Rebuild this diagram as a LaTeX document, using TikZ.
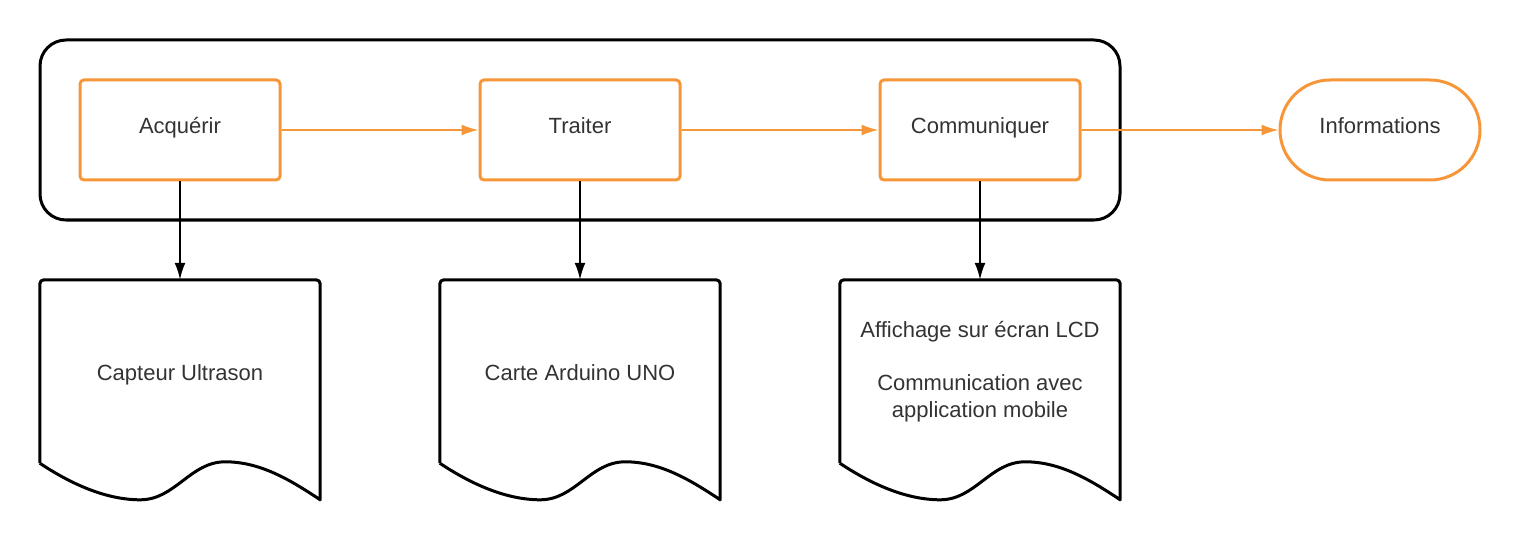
\documentclass[tikz,border=0pt]{standalone}
\usepackage{fontspec}
\setmainfont{Liberation Sans}
\usetikzlibrary{arrows.meta,positioning}
\definecolor{lucidorange}{RGB}{247,150,56}
\definecolor{textgray}{RGB}{51,51,51}
\tikzset{
  stepbox/.style={rectangle,rounded corners=4,draw=lucidorange,line width=3,minimum width=200,minimum height=100,text=textgray,text height=15,text depth=8.4},
  docbox/.style={rectangle,minimum width=280,minimum height=183,text=textgray,align=center},
  docone/.style={docbox,text height=17,text depth=0},
  docline/.style={draw=black,line width=3,line join=round},
  flow/.style={-{Latex[length=17,width=11]},draw=lucidorange,line width=2},
  link/.style={-{Latex[length=17,width=11]},draw=black,line width=2}
}
\begin{document}
\begin{tikzpicture}[x=1pt,y=-1pt,font=\fontsize{22}{26.5}\selectfont]
\useasboundingbox (0,0) rectangle (1520,540);
% Frame
\node[draw,line width=3,rounded corners=26,minimum width=1080,minimum height=180] (frame) at (580,130) {};
% Steps
\node[stepbox] (acq) at (180,130) {Acquérir};
\node[stepbox] (trt) at (580,130) {Traiter};
\node[stepbox] (com) at (980,130) {Communiquer};
\node[stepbox,rounded corners=50] (info) at (1380,130) {Informations};
% Documents
\node[docone] (doc1) at (180,371.5) {Capteur Ultrason};
\node[docone] (doc2) at (580,371.5) {Carte Arduino UNO};
\node[docbox] (doc3) at (980,371.5) {Affichage sur écran LCD\\[26.5pt]Communication avec\\application mobile};
\foreach \d in {doc1,doc2,doc3}{
  \draw[docline] (\d.south west) [rounded corners=4] -- (\d.north west) -- (\d.north east) [sharp corners] -- ++(0,220)
    .. controls ++(-30,-20) and ++(35,0) .. ++(-95,-38)
    .. controls ++(-35,0) and ++(35,0) .. ++(-85,38)
    .. controls ++(-35,0) and ++(30,20) .. (\d.south west);
}
% Links
\draw[flow] (acq) -- (trt);
\draw[flow] (trt) -- (com);
\draw[flow] (com) -- (info);
\draw[link] (acq) -- (doc1);
\draw[link] (trt) -- (doc2);
\draw[link] (com) -- (doc3);
\end{tikzpicture}
\end{document}
